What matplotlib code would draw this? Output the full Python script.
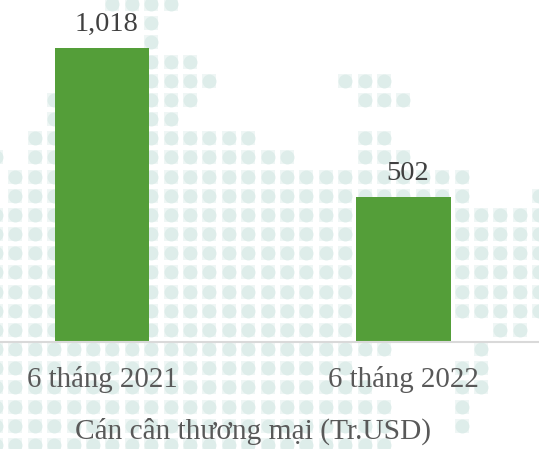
import numpy as np
import matplotlib
matplotlib.use("Agg")
import matplotlib.pyplot as plt

plt.rcParams["font.family"] = ["Liberation Serif", "DejaVu Serif"]

categories = ["6 tháng 2021", "6 tháng 2022"]
values = [1018, 502]
value_labels = ["1,018", "502"]
axis_title = "Cán cân thương mại (Tr.USD)"

# background dot map, one string per row, # = dot
dot_rows = [
    "......####...................",
    "........#....................",
    "........#....................",
    "........###..................",
    "........####......###........",
    "...#....###........###.......",
    "...#....##...................",
    "..##....######.....##........",
    "#.##....########...###.......",
    ".###....#################....",
    ".###....#################...#",
    "#############################",
    "#############################",
    "#############################",
    "#############################",
    "#############################",
    "#############################",
    "######################....##.",
    "#####################....#...",
    "###################.....##...",
    "####################....##...",
    "#####################...#....",
    "#####################...#....",
    "#####################........",
]

fig = plt.figure(figsize=(5.39, 4.49), dpi=100)

# dot layer, in pixel coordinates
bg = fig.add_axes([0, 0, 1, 1])
bg.set_xlim(0, 539)
bg.set_ylim(449, 0)
bg.axis("off")
row_y = np.linspace(4, 445, len(dot_rows))
col_x = -4 + 19.4 * np.arange(len(dot_rows[0]))
for y, row in zip(row_y, dot_rows):
    xs = [col_x[i] for i, c in enumerate(row) if c == "#"]
    # pale square halo under each dot, the reference looks blurred
    bg.scatter(xs, [y] * len(xs), s=100, marker="s", color="#eff6f5", linewidths=0)
    bg.scatter(xs, [y] * len(xs), s=100, color="#deedea", linewidths=0)

ax = fig.add_axes([0, 0, 1, 1])
ax.patch.set_alpha(0)
ax.set_xlim(-102 / 301.5, (539 - 102) / 301.5)
ax.set_ylim(-370.5, 1184)

x = np.arange(len(values))
bars = ax.bar(x, values, width=0.315, color="#549e39")
for b, lab in zip(bars, value_labels):
    ax.annotate(lab, (b.get_x() + b.get_width() / 2, b.get_height()),
                xytext=(3, 8), textcoords="offset points",
                ha="center", va="bottom", fontsize=20.5, color="#404040")

for s in ["top", "left", "right"]:
    ax.spines[s].set_visible(False)
ax.spines["bottom"].set_position(("data", 0))
ax.spines["bottom"].set_color("#d9d9d9")
ax.spines["bottom"].set_linewidth(1.5)
ax.set_yticks([])
ax.set_xticks(x, categories)
ax.tick_params(axis="x", length=0, pad=17.5, labelsize=20.8, labelcolor="#595959")

ax.text(253 / 539, 1 - 431 / 449, axis_title, transform=ax.transAxes,
        ha="center", va="center", fontsize=21.2, color="#595959")

fig.savefig("out.png", dpi=100)
